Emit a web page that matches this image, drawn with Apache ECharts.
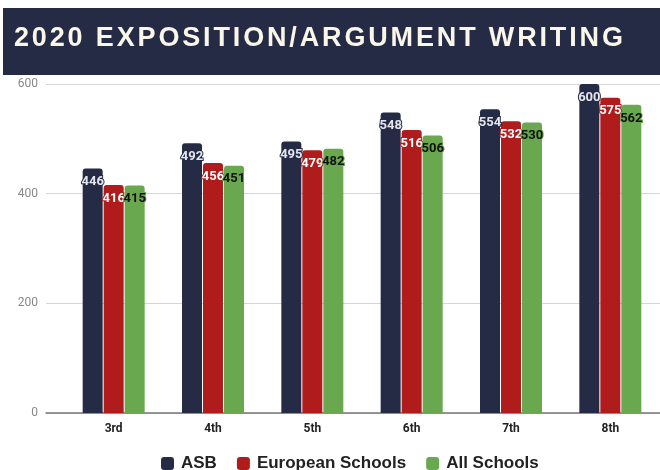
<!DOCTYPE html>
<html><head><meta charset="utf-8">
<script src="https://cdn.jsdelivr.net/npm/echarts@6/dist/echarts.min.js"></script>
<style>html,body{margin:0;padding:0;background:#fff}#c{width:660px;height:470px}</style>
</head><body><div id="c"></div>
<script>
const titleText = '2020 EXPOSITION/ARGUMENT WRITING';
const categories = ['3rd','4th','5th','6th','7th','8th'];
const asb = [446,492,495,548,554,600];
const european = [416,456,479,516,532,575];
const allSchools = [415,451,482,506,530,562];
const yTicks = [0,200,400,600];
const seriesNames = ['ASB','European Schools','All Schools'];
const colors = ['#252b45','#b01c1c','#69a84f'];
const labelColors = ['#e4e6ee','#ffffff','#111111'];

const spaced = titleText.split('').map(c => '{s|' + c + '}').join('');

const chart = echarts.init(document.getElementById('c'));
function mk(name, data, i){
  return {
    name, type:'bar', data, xAxisIndex:1, yAxisIndex:1,
    barWidth:20, barGap:'5%',
    itemStyle:{color:colors[i], borderRadius:[3,3,0,0]},
    label:{show:true, position:'insideTop', distance:7, color:labelColors[i],
      fontFamily:'Roboto', fontWeight:'bold', fontSize:13,
      textBorderColor:colors[i], textBorderWidth:2}
  };
}
chart.setOption({
  animation:false,
  graphic:[{type:'rect', shape:{x:3,y:8,width:657,height:67}, style:{fill:'#252b45'}, z:-1}],
  title:{text:spaced, left:9, top:20,
    textStyle:{color:'#fbf6ea', fontFamily:'Liberation Sans', fontWeight:'bold', fontSize:27,
      rich:{s:{color:'#fbf6ea', fontFamily:'Liberation Sans', fontWeight:'bold', fontSize:27, padding:[0,2.85,0,0]}}}},
  legend:{data:seriesNames, top:450, left:156, itemWidth:13, itemHeight:13, itemGap:20,
    icon:'roundRect',
    textStyle:{fontFamily:'Liberation Sans', fontWeight:'bold', fontSize:17, color:'#222', padding:[0,0,0,2]}},
  grid:[
    {left:46, right:0, top:84, bottom:57},
    {left:64, right:-9, top:84, bottom:57}
  ],
  xAxis:[
    {type:'value', gridIndex:0, min:0, max:1, axisLabel:{show:false}, splitLine:{show:false},
     axisTick:{show:false}, axisLine:{show:true, lineStyle:{color:'#777', width:1.5}}},
    {type:'category', gridIndex:1, data:categories, axisLine:{show:false}, axisTick:{show:false},
     axisLabel:{margin:10, color:'#222', fontFamily:'Roboto', fontWeight:'bold', fontSize:12}}
  ],
  yAxis:[
    {type:'value', gridIndex:0, min:yTicks[0], max:yTicks[yTicks.length-1], interval:200,
     axisLine:{show:false}, axisTick:{show:false},
     axisLabel:{margin:8, color:'#888', fontFamily:'Roboto', fontSize:12},
     splitLine:{lineStyle:{color:'#d6d6d6'}}},
    {type:'value', gridIndex:1, min:0, max:600, interval:200, show:false, splitLine:{show:false}}
  ],
  series:[mk(seriesNames[0], asb, 0), mk(seriesNames[1], european, 1), mk(seriesNames[2], allSchools, 2)]
});
</script></body></html>
